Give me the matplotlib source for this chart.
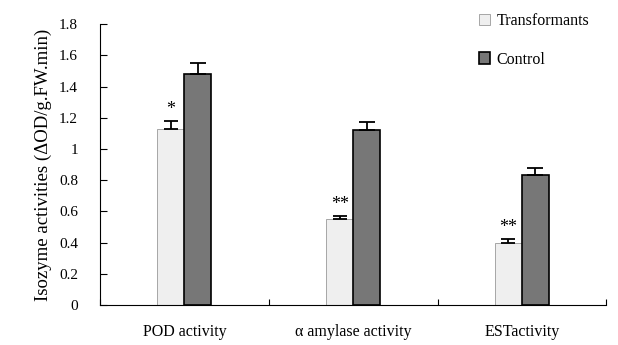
import numpy as np
import matplotlib
matplotlib.use('Agg')
import matplotlib.pyplot as plt

# Data
categories = ['POD activity', 'α amylase activity', 'ESTactivity']
transformants = [1.13, 0.55, 0.40]
transformants_err = [0.05, 0.02, 0.02]
control = [1.48, 1.12, 0.83]
control_err = [0.07, 0.05, 0.05]
signif = ['*', '**', '**']
yticks = [0, 0.2, 0.4, 0.6, 0.8, 1, 1.2, 1.4, 1.6, 1.8]

plt.rcParams['font.family'] = ['Liberation Serif', 'DejaVu Serif']

fig = plt.figure(figsize=(6.18, 3.45), dpi=100)
ax = fig.add_axes([0.162, 0.116, 0.819, 0.814])

x = np.arange(len(categories))
w = 0.16
zeros = [0] * len(categories)
ax.bar(x - w / 2, transformants, w, color='#efefef', edgecolor='#999999', linewidth=0.6,
       yerr=[zeros, transformants_err],
       error_kw=dict(ecolor='black', elinewidth=1.3, capsize=5, capthick=1.3),
       label='Transformants')
ax.bar(x + w / 2, control, w, color='#777777', edgecolor='black', linewidth=1.2,
       yerr=[zeros, control_err],
       error_kw=dict(ecolor='black', elinewidth=1.3, capsize=6, capthick=1.3),
       label='Control')

# significance marks
for xi, v, e, s in zip(x, transformants, transformants_err, signif):
    ax.text(xi - w / 2, v + e + 0.02, s, ha='center', va='bottom', fontsize=13)

ax.set_xlim(-0.5, 2.5)
ax.set_ylim(0, 1.8)
ax.set_yticks(yticks)
ax.set_yticklabels([('%g' % t) for t in yticks], fontsize=11)
ax.set_xticks([-0.5, 0.5, 1.5, 2.5])
ax.set_xticklabels([])
ax.set_xticks(x, minor=True)
ax.set_xticklabels(categories, minor=True, fontsize=11.5)
ax.tick_params(axis='x', which='minor', length=0, pad=14)
ax.tick_params(axis='x', which='major', direction='in', length=4)
ax.tick_params(axis='y', direction='in', length=5, pad=16)
ax.spines['top'].set_visible(False)
ax.spines['right'].set_visible(False)
ax.set_ylabel('Isozyme activities (ΔOD/g.FW.min)', fontsize=13.5, labelpad=5)

ax.legend(loc='upper left', bbox_to_anchor=(0.72, 1.09), frameon=False, fontsize=11.5,
          handlelength=0.7, handleheight=0.7, handletextpad=0.4, labelspacing=1.4)

fig.savefig('out.png', dpi=100)
